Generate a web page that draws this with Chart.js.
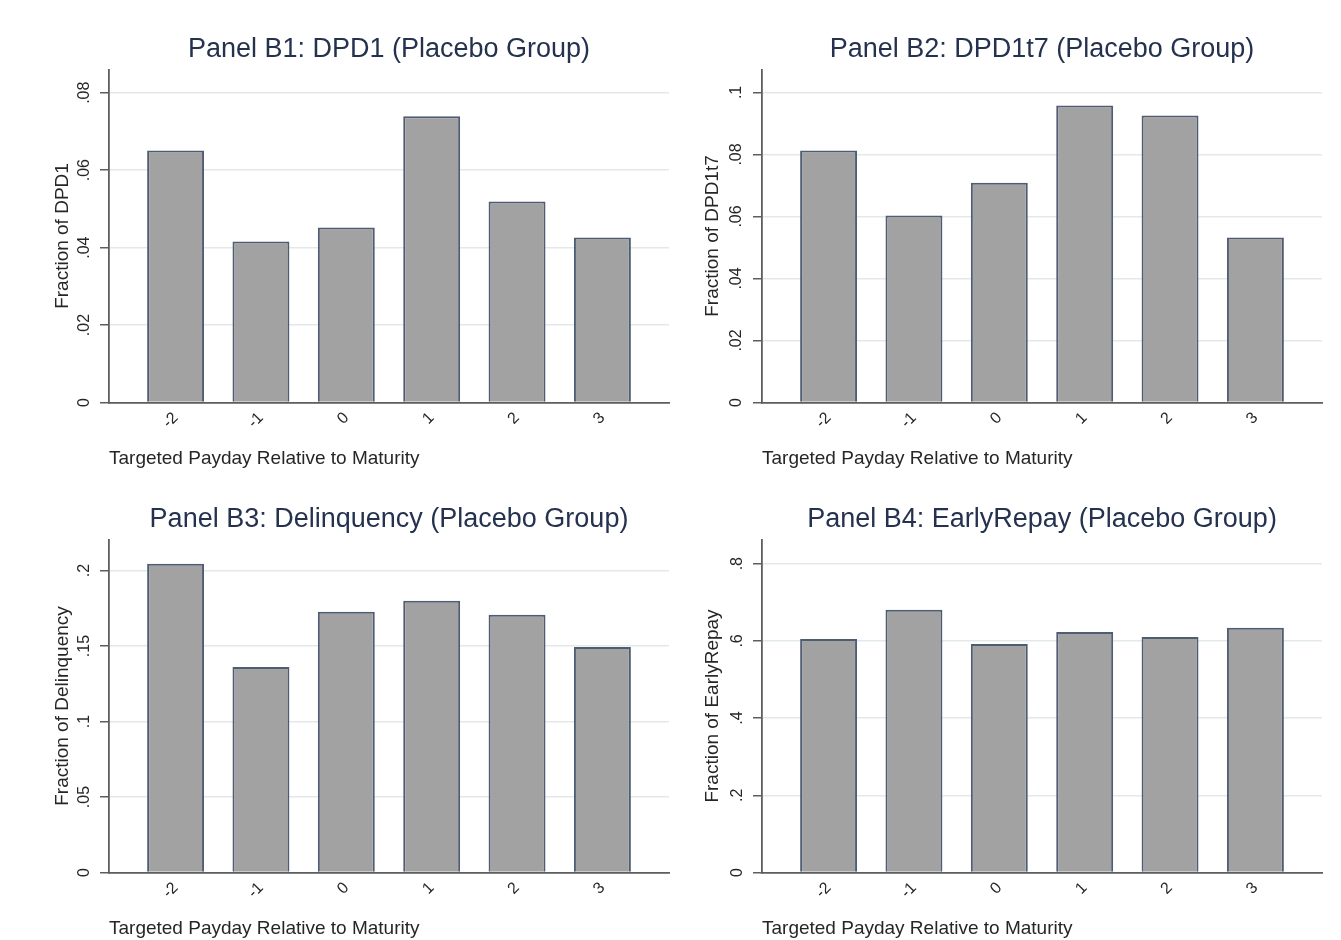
<!DOCTYPE html>
<html>
<head>
<meta charset="utf-8">
<title>Placebo Group: outcomes by targeted payday</title>
<script src="https://cdn.jsdelivr.net/npm/chart.js@4/dist/chart.umd.min.js"></script>
<style>
  html, body { margin: 0; padding: 0; background: #ffffff; }
  #wrap { position: relative; width: 1341px; height: 940px; overflow: hidden; background: #ffffff; }
  #wrap canvas { position: absolute; }
</style>
</head>
<body>
<div id="wrap">
  <canvas id="panelB1" width="680" height="470" style="left:0px;top:0px"></canvas>
  <canvas id="panelB2" width="661" height="470" style="left:680px;top:0px"></canvas>
  <canvas id="panelB3" width="680" height="470" style="left:0px;top:470px"></canvas>
  <canvas id="panelB4" width="661" height="470" style="left:680px;top:470px"></canvas>
</div>
<script>
// Targeted payday relative to loan maturity
const categories = [-2, -1, 0, 1, 2, 3];
const categoryLabels = ['-2', '-1', '0', '1', '2', '3'];

// Fractions by targeted payday (placebo group)
const dpd1        = [0.0651, 0.0416, 0.0452, 0.0739, 0.0519, 0.0426];
const dpd1t7      = [0.0813, 0.0603, 0.0709, 0.0958, 0.0926, 0.0532];
const delinquency = [0.2046, 0.1361, 0.1727, 0.1800, 0.1707, 0.1494];
const earlyRepay  = [0.605, 0.681, 0.592, 0.623, 0.610, 0.634];

// y-axis ticks and their labels
const dpd1Ticks = [0, 0.02, 0.04, 0.06, 0.08];
const dpd1TickLabels = ['0', '.02', '.04', '.06', '.08'];
const dpd1t7Ticks = [0, 0.02, 0.04, 0.06, 0.08, 0.1];
const dpd1t7TickLabels = ['0', '.02', '.04', '.06', '.08', '.1'];
const delinquencyTicks = [0, 0.05, 0.1, 0.15, 0.2];
const delinquencyTickLabels = ['0', '.05', '.1', '.15', '.2'];
const earlyRepayTicks = [0, 0.2, 0.4, 0.6, 0.8];
const earlyRepayTickLabels = ['0', '.2', '.4', '.6', '.8'];

// y-axis upper limits
const yMax = { b1: 0.086, b2: 0.1074, b3: 0.2206, b4: 0.8627 };

const panelTitles = {
  b1: 'Panel B1: DPD1 (Placebo Group)',
  b2: 'Panel B2: DPD1t7 (Placebo Group)',
  b3: 'Panel B3: Delinquency (Placebo Group)',
  b4: 'Panel B4: EarlyRepay (Placebo Group)'
};
const yTitles = {
  b1: 'Fraction of DPD1',
  b2: 'Fraction of DPD1t7',
  b3: 'Fraction of Delinquency',
  b4: 'Fraction of EarlyRepay'
};
const xTitle = 'Targeted Payday Relative to Maturity';

const FONT = '"Liberation Sans", Arial, Helvetica, sans-serif';
const TITLE_COLOR = '#25324f';
const TEXT_COLOR = '#262626';
const AXIS_COLOR = '#5e5e5e';
const GRID_COLOR = '#e3e9eb';
const BAR_FILL = '#a2a2a2';
const BAR_EDGE = '#4f5d73';

// geometry of the left-column and right-column panels
const columnLayout = {
  left:  { padLeft: 51.6, axisWidth: 57.4, padRight: 11 },
  right: { padLeft: 21.6, axisWidth: 60.4, padRight: 19 }
};
const CANVAS_H = 470;
const PLOT_BOTTOM = 402.5;

function makePanel(canvasId, key, column, values, ticks, tickLabels, tickPad) {
  const geo = columnLayout[column];
  const points = categories.map((c, i) => ({ x: c, y: values[i] }));
  return new Chart(document.getElementById(canvasId), {
    type: 'bar',
    data: {
      datasets: [{
        data: points,
        backgroundColor: BAR_FILL,
        borderColor: BAR_EDGE,
        borderWidth: 2,
        barPercentage: 0.667,
        categoryPercentage: 1.0
      }]
    },
    options: {
      responsive: false,
      animation: false,
      events: [],
      layout: { padding: { left: geo.padLeft, right: geo.padRight, top: 0, bottom: 0 } },
      plugins: {
        legend: { display: false },
        tooltip: { enabled: false },
        title: {
          display: true,
          text: panelTitles[key],
          color: TITLE_COLOR,
          fullSize: false,
          font: { family: FONT, size: 27, weight: 'normal', lineHeight: 1.2 },
          padding: { top: 33.8, bottom: 3.3 }
        }
      },
      scales: {
        x: {
          type: 'linear',
          offset: false,
          min: -2.78,
          max: 3.78,
          afterBuildTicks: (scale) => { scale.ticks = categories.map(v => ({ value: v })); },
          afterFit: (scale) => { scale.height = CANVAS_H - PLOT_BOTTOM; },
          grid: { display: false, drawTicks: false, tickLength: 0 },
          border: { display: true, color: AXIS_COLOR, width: 1.8 },
          ticks: {
            autoSkip: false,
            minRotation: 45,
            maxRotation: 45,
            padding: 6,
            color: TEXT_COLOR,
            font: { family: FONT, size: 16 },
            callback: (value, index) => categoryLabels[index]
          },
          title: {
            display: true,
            text: xTitle,
            align: 'start',
            color: TEXT_COLOR,
            font: { family: FONT, size: 19, lineHeight: 1.2 },
            padding: { top: 0, bottom: 0 }
          }
        },
        y: {
          type: 'linear',
          min: 0,
          max: yMax[key],
          afterBuildTicks: (scale) => { scale.ticks = ticks.map(v => ({ value: v })); },
          afterFit: (scale) => { scale.width = geo.axisWidth; },
          grid: {
            color: GRID_COLOR,
            lineWidth: 1.5,
            drawTicks: true,
            tickLength: 9,
            tickColor: AXIS_COLOR,
            tickWidth: 1.5
          },
          border: { display: true, color: AXIS_COLOR, width: 1.8 },
          ticks: {
            autoSkip: false,
            minRotation: 90,
            maxRotation: 90,
            crossAlign: 'center',
            padding: tickPad,
            color: TEXT_COLOR,
            font: { family: FONT, size: 16 },
            callback: (value, index) => tickLabels[index]
          },
          title: {
            display: true,
            text: yTitles[key],
            color: TEXT_COLOR,
            font: { family: FONT, size: 19, lineHeight: 1.2 },
            padding: { top: 0, bottom: 0 }
          }
        }
      }
    }
  });
}

makePanel('panelB1', 'b1', 'left',  dpd1,        dpd1Ticks,        dpd1TickLabels,        3.9);
makePanel('panelB2', 'b2', 'right', dpd1t7,      dpd1t7Ticks,      dpd1t7TickLabels,      4.9);
makePanel('panelB3', 'b3', 'left',  delinquency, delinquencyTicks, delinquencyTickLabels, 3.9);
makePanel('panelB4', 'b4', 'right', earlyRepay,  earlyRepayTicks,  earlyRepayTickLabels,  8.3);
</script>
</body>
</html>
